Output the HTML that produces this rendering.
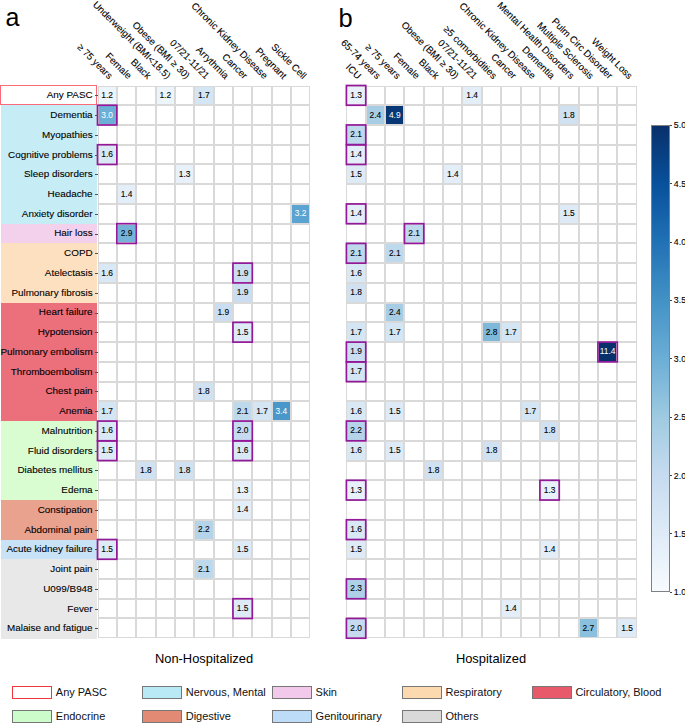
<!DOCTYPE html><html><head><meta charset="utf-8"><style>
html,body{margin:0;padding:0;background:#fff;}
body{width:685px;height:724px;position:relative;overflow:hidden;font-family:"Liberation Sans",sans-serif;color:#000;}
.a{position:absolute;}
.lab{position:absolute;text-align:right;white-space:nowrap;-webkit-text-stroke:0.1px #000;}
.c{position:absolute;display:flex;align-items:center;justify-content:center;}
.hd{position:absolute;width:0;height:0;}
.hd span{-webkit-text-stroke:0.1px #000;position:absolute;right:0;bottom:0;white-space:nowrap;transform-origin:100% 100%;transform:rotate(45deg);}
.tk{position:absolute;height:1px;background:#333;}
</style></head><body>

<div class="a" style="left:0.8px;top:105.24px;width:96.4px;height:20.04px;background:#c6edf5"></div>
<div class="a" style="left:0.8px;top:124.98px;width:96.4px;height:20.04px;background:#c6edf5"></div>
<div class="a" style="left:0.8px;top:144.72px;width:96.4px;height:20.04px;background:#c6edf5"></div>
<div class="a" style="left:0.8px;top:164.46px;width:96.4px;height:20.04px;background:#c6edf5"></div>
<div class="a" style="left:0.8px;top:184.20px;width:96.4px;height:20.04px;background:#c6edf5"></div>
<div class="a" style="left:0.8px;top:203.94px;width:96.4px;height:20.04px;background:#c6edf5"></div>
<div class="a" style="left:0.8px;top:223.68px;width:96.4px;height:20.04px;background:#f3d0ec"></div>
<div class="a" style="left:0.8px;top:243.42px;width:96.4px;height:20.04px;background:#fde0c0"></div>
<div class="a" style="left:0.8px;top:263.16px;width:96.4px;height:20.04px;background:#fde0c0"></div>
<div class="a" style="left:0.8px;top:282.90px;width:96.4px;height:20.04px;background:#fde0c0"></div>
<div class="a" style="left:0.8px;top:302.64px;width:96.4px;height:20.04px;background:#ec6f7c"></div>
<div class="a" style="left:0.8px;top:322.38px;width:96.4px;height:20.04px;background:#ec6f7c"></div>
<div class="a" style="left:0.8px;top:342.12px;width:96.4px;height:20.04px;background:#ec6f7c"></div>
<div class="a" style="left:0.8px;top:361.86px;width:96.4px;height:20.04px;background:#ec6f7c"></div>
<div class="a" style="left:0.8px;top:381.60px;width:96.4px;height:20.04px;background:#ec6f7c"></div>
<div class="a" style="left:0.8px;top:401.34px;width:96.4px;height:20.04px;background:#ec6f7c"></div>
<div class="a" style="left:0.8px;top:421.08px;width:96.4px;height:20.04px;background:#d9fdd1"></div>
<div class="a" style="left:0.8px;top:440.82px;width:96.4px;height:20.04px;background:#d9fdd1"></div>
<div class="a" style="left:0.8px;top:460.56px;width:96.4px;height:20.04px;background:#d9fdd1"></div>
<div class="a" style="left:0.8px;top:480.30px;width:96.4px;height:20.04px;background:#d9fdd1"></div>
<div class="a" style="left:0.8px;top:500.04px;width:96.4px;height:20.04px;background:#e9a28e"></div>
<div class="a" style="left:0.8px;top:519.78px;width:96.4px;height:20.04px;background:#e9a28e"></div>
<div class="a" style="left:0.8px;top:539.52px;width:96.4px;height:20.04px;background:#c8e3f8"></div>
<div class="a" style="left:0.8px;top:559.26px;width:96.4px;height:20.04px;background:#e8e8e8"></div>
<div class="a" style="left:0.8px;top:579.00px;width:96.4px;height:20.04px;background:#e8e8e8"></div>
<div class="a" style="left:0.8px;top:598.74px;width:96.4px;height:20.04px;background:#e8e8e8"></div>
<div class="a" style="left:0.8px;top:618.48px;width:96.4px;height:20.04px;background:#e8e8e8"></div>
<div class="a" style="left:0;top:85px;width:97.3px;height:20.2px;border:1.8px solid #fb6a78;box-sizing:border-box"></div>
<div class="a" style="left:97.50px;top:85.50px;width:212.85px;height:552.72px;overflow:hidden">
<div class="a" style="left:0.00px;top:0.00px;width:19.35px;height:19.74px;background:#edf5fc"></div>
<div class="a" style="left:58.05px;top:0.00px;width:19.35px;height:19.74px;background:#edf5fc"></div>
<div class="a" style="left:96.75px;top:0.00px;width:19.35px;height:19.74px;background:#d4e5f4"></div>
<div class="a" style="left:0.00px;top:19.74px;width:19.35px;height:19.74px;background:#6baed6"></div>
<div class="a" style="left:0.00px;top:59.22px;width:19.35px;height:19.74px;background:#d9e8f5"></div>
<div class="a" style="left:77.40px;top:78.96px;width:19.35px;height:19.74px;background:#e8f1fa"></div>
<div class="a" style="left:19.35px;top:98.70px;width:19.35px;height:19.74px;background:#e3eef9"></div>
<div class="a" style="left:193.50px;top:118.44px;width:19.35px;height:19.74px;background:#5ba3d0"></div>
<div class="a" style="left:19.35px;top:138.18px;width:19.35px;height:19.74px;background:#75b4d8"></div>
<div class="a" style="left:0.00px;top:177.66px;width:19.35px;height:19.74px;background:#d9e8f5"></div>
<div class="a" style="left:135.45px;top:177.66px;width:19.35px;height:19.74px;background:#cbdef1"></div>
<div class="a" style="left:135.45px;top:197.40px;width:19.35px;height:19.74px;background:#cbdef1"></div>
<div class="a" style="left:116.10px;top:217.14px;width:19.35px;height:19.74px;background:#cbdef1"></div>
<div class="a" style="left:135.45px;top:236.88px;width:19.35px;height:19.74px;background:#deebf7"></div>
<div class="a" style="left:96.75px;top:296.10px;width:19.35px;height:19.74px;background:#d0e1f2"></div>
<div class="a" style="left:0.00px;top:315.84px;width:19.35px;height:19.74px;background:#d4e5f4"></div>
<div class="a" style="left:135.45px;top:315.84px;width:19.35px;height:19.74px;background:#bed8ec"></div>
<div class="a" style="left:154.80px;top:315.84px;width:19.35px;height:19.74px;background:#d4e5f4"></div>
<div class="a" style="left:174.15px;top:315.84px;width:19.35px;height:19.74px;background:#4a98c9"></div>
<div class="a" style="left:0.00px;top:335.58px;width:19.35px;height:19.74px;background:#d9e8f5"></div>
<div class="a" style="left:135.45px;top:335.58px;width:19.35px;height:19.74px;background:#c6dbef"></div>
<div class="a" style="left:0.00px;top:355.32px;width:19.35px;height:19.74px;background:#deebf7"></div>
<div class="a" style="left:135.45px;top:355.32px;width:19.35px;height:19.74px;background:#d9e8f5"></div>
<div class="a" style="left:38.70px;top:375.06px;width:19.35px;height:19.74px;background:#d0e1f2"></div>
<div class="a" style="left:77.40px;top:375.06px;width:19.35px;height:19.74px;background:#d0e1f2"></div>
<div class="a" style="left:135.45px;top:394.80px;width:19.35px;height:19.74px;background:#e8f1fa"></div>
<div class="a" style="left:135.45px;top:414.54px;width:19.35px;height:19.74px;background:#e3eef9"></div>
<div class="a" style="left:96.75px;top:434.28px;width:19.35px;height:19.74px;background:#b6d4e9"></div>
<div class="a" style="left:0.00px;top:454.02px;width:19.35px;height:19.74px;background:#deebf7"></div>
<div class="a" style="left:135.45px;top:454.02px;width:19.35px;height:19.74px;background:#deebf7"></div>
<div class="a" style="left:96.75px;top:473.76px;width:19.35px;height:19.74px;background:#bed8ec"></div>
<div class="a" style="left:135.45px;top:513.24px;width:19.35px;height:19.74px;background:#deebf7"></div>
<div class="a" style="left:-1.00px;top:0;width:2.00px;height:552.72px;background:#d9d9d9"></div>
<div class="a" style="left:18.35px;top:0;width:2.00px;height:552.72px;background:#d9d9d9"></div>
<div class="a" style="left:37.70px;top:0;width:2.00px;height:552.72px;background:#d9d9d9"></div>
<div class="a" style="left:57.05px;top:0;width:2.00px;height:552.72px;background:#d9d9d9"></div>
<div class="a" style="left:76.40px;top:0;width:2.00px;height:552.72px;background:#d9d9d9"></div>
<div class="a" style="left:95.75px;top:0;width:2.00px;height:552.72px;background:#d9d9d9"></div>
<div class="a" style="left:115.10px;top:0;width:2.00px;height:552.72px;background:#d9d9d9"></div>
<div class="a" style="left:134.45px;top:0;width:2.00px;height:552.72px;background:#d9d9d9"></div>
<div class="a" style="left:153.80px;top:0;width:2.00px;height:552.72px;background:#d9d9d9"></div>
<div class="a" style="left:173.15px;top:0;width:2.00px;height:552.72px;background:#d9d9d9"></div>
<div class="a" style="left:192.50px;top:0;width:2.00px;height:552.72px;background:#d9d9d9"></div>
<div class="a" style="left:211.85px;top:0;width:2.00px;height:552.72px;background:#d9d9d9"></div>
<div class="a" style="left:0;top:-1.00px;width:212.85px;height:2.00px;background:#d9d9d9"></div>
<div class="a" style="left:0;top:18.74px;width:212.85px;height:2.00px;background:#d9d9d9"></div>
<div class="a" style="left:0;top:38.48px;width:212.85px;height:2.00px;background:#d9d9d9"></div>
<div class="a" style="left:0;top:58.22px;width:212.85px;height:2.00px;background:#d9d9d9"></div>
<div class="a" style="left:0;top:77.96px;width:212.85px;height:2.00px;background:#d9d9d9"></div>
<div class="a" style="left:0;top:97.70px;width:212.85px;height:2.00px;background:#d9d9d9"></div>
<div class="a" style="left:0;top:117.44px;width:212.85px;height:2.00px;background:#d9d9d9"></div>
<div class="a" style="left:0;top:137.18px;width:212.85px;height:2.00px;background:#d9d9d9"></div>
<div class="a" style="left:0;top:156.92px;width:212.85px;height:2.00px;background:#d9d9d9"></div>
<div class="a" style="left:0;top:176.66px;width:212.85px;height:2.00px;background:#d9d9d9"></div>
<div class="a" style="left:0;top:196.40px;width:212.85px;height:2.00px;background:#d9d9d9"></div>
<div class="a" style="left:0;top:216.14px;width:212.85px;height:2.00px;background:#d9d9d9"></div>
<div class="a" style="left:0;top:235.88px;width:212.85px;height:2.00px;background:#d9d9d9"></div>
<div class="a" style="left:0;top:255.62px;width:212.85px;height:2.00px;background:#d9d9d9"></div>
<div class="a" style="left:0;top:275.36px;width:212.85px;height:2.00px;background:#d9d9d9"></div>
<div class="a" style="left:0;top:295.10px;width:212.85px;height:2.00px;background:#d9d9d9"></div>
<div class="a" style="left:0;top:314.84px;width:212.85px;height:2.00px;background:#d9d9d9"></div>
<div class="a" style="left:0;top:334.58px;width:212.85px;height:2.00px;background:#d9d9d9"></div>
<div class="a" style="left:0;top:354.32px;width:212.85px;height:2.00px;background:#d9d9d9"></div>
<div class="a" style="left:0;top:374.06px;width:212.85px;height:2.00px;background:#d9d9d9"></div>
<div class="a" style="left:0;top:393.80px;width:212.85px;height:2.00px;background:#d9d9d9"></div>
<div class="a" style="left:0;top:413.54px;width:212.85px;height:2.00px;background:#d9d9d9"></div>
<div class="a" style="left:0;top:433.28px;width:212.85px;height:2.00px;background:#d9d9d9"></div>
<div class="a" style="left:0;top:453.02px;width:212.85px;height:2.00px;background:#d9d9d9"></div>
<div class="a" style="left:0;top:472.76px;width:212.85px;height:2.00px;background:#d9d9d9"></div>
<div class="a" style="left:0;top:492.50px;width:212.85px;height:2.00px;background:#d9d9d9"></div>
<div class="a" style="left:0;top:512.24px;width:212.85px;height:2.00px;background:#d9d9d9"></div>
<div class="a" style="left:0;top:531.98px;width:212.85px;height:2.00px;background:#d9d9d9"></div>
<div class="a" style="left:0;top:551.72px;width:212.85px;height:2.00px;background:#d9d9d9"></div>
</div>
<svg class="a" style="left:0;top:0" width="685" height="724">
<rect x="97.50" y="105.24" width="19.35" height="19.74" fill="none" stroke="#92199a" stroke-width="1.7"/>
<rect x="97.50" y="144.72" width="19.35" height="19.74" fill="none" stroke="#92199a" stroke-width="1.7"/>
<rect x="116.85" y="223.68" width="19.35" height="19.74" fill="none" stroke="#92199a" stroke-width="1.7"/>
<rect x="232.95" y="263.16" width="19.35" height="19.74" fill="none" stroke="#92199a" stroke-width="1.7"/>
<rect x="232.95" y="322.38" width="19.35" height="19.74" fill="none" stroke="#92199a" stroke-width="1.7"/>
<rect x="97.50" y="421.08" width="19.35" height="19.74" fill="none" stroke="#92199a" stroke-width="1.7"/>
<rect x="232.95" y="421.08" width="19.35" height="19.74" fill="none" stroke="#92199a" stroke-width="1.7"/>
<rect x="97.50" y="440.82" width="19.35" height="19.74" fill="none" stroke="#92199a" stroke-width="1.7"/>
<rect x="232.95" y="440.82" width="19.35" height="19.74" fill="none" stroke="#92199a" stroke-width="1.7"/>
<rect x="97.50" y="539.52" width="19.35" height="19.74" fill="none" stroke="#92199a" stroke-width="1.7"/>
<rect x="232.95" y="598.74" width="19.35" height="19.74" fill="none" stroke="#92199a" stroke-width="1.7"/>
</svg>
<div class="c" style="left:97.50px;top:85.90px;width:19.35px;height:17.94px;font-size:8.4px;color:#000;-webkit-text-stroke:0.1px #000">1.2</div>
<div class="c" style="left:155.55px;top:85.90px;width:19.35px;height:17.94px;font-size:8.4px;color:#000;-webkit-text-stroke:0.1px #000">1.2</div>
<div class="c" style="left:194.25px;top:85.90px;width:19.35px;height:17.94px;font-size:8.4px;color:#000;-webkit-text-stroke:0.1px #000">1.7</div>
<div class="c" style="left:97.50px;top:105.64px;width:19.35px;height:17.94px;font-size:8.4px;color:#ffffff;">3.0</div>
<div class="c" style="left:97.50px;top:145.12px;width:19.35px;height:17.94px;font-size:8.4px;color:#000;-webkit-text-stroke:0.1px #000">1.6</div>
<div class="c" style="left:174.90px;top:164.86px;width:19.35px;height:17.94px;font-size:8.4px;color:#000;-webkit-text-stroke:0.1px #000">1.3</div>
<div class="c" style="left:116.85px;top:184.60px;width:19.35px;height:17.94px;font-size:8.4px;color:#000;-webkit-text-stroke:0.1px #000">1.4</div>
<div class="c" style="left:291.00px;top:204.34px;width:19.35px;height:17.94px;font-size:8.4px;color:#ffffff;">3.2</div>
<div class="c" style="left:116.85px;top:224.08px;width:19.35px;height:17.94px;font-size:8.4px;color:#000;-webkit-text-stroke:0.1px #000">2.9</div>
<div class="c" style="left:97.50px;top:263.56px;width:19.35px;height:17.94px;font-size:8.4px;color:#000;-webkit-text-stroke:0.1px #000">1.6</div>
<div class="c" style="left:232.95px;top:263.56px;width:19.35px;height:17.94px;font-size:8.4px;color:#000;-webkit-text-stroke:0.1px #000">1.9</div>
<div class="c" style="left:232.95px;top:283.30px;width:19.35px;height:17.94px;font-size:8.4px;color:#000;-webkit-text-stroke:0.1px #000">1.9</div>
<div class="c" style="left:213.60px;top:303.04px;width:19.35px;height:17.94px;font-size:8.4px;color:#000;-webkit-text-stroke:0.1px #000">1.9</div>
<div class="c" style="left:232.95px;top:322.78px;width:19.35px;height:17.94px;font-size:8.4px;color:#000;-webkit-text-stroke:0.1px #000">1.5</div>
<div class="c" style="left:194.25px;top:382.00px;width:19.35px;height:17.94px;font-size:8.4px;color:#000;-webkit-text-stroke:0.1px #000">1.8</div>
<div class="c" style="left:97.50px;top:401.74px;width:19.35px;height:17.94px;font-size:8.4px;color:#000;-webkit-text-stroke:0.1px #000">1.7</div>
<div class="c" style="left:232.95px;top:401.74px;width:19.35px;height:17.94px;font-size:8.4px;color:#000;-webkit-text-stroke:0.1px #000">2.1</div>
<div class="c" style="left:252.30px;top:401.74px;width:19.35px;height:17.94px;font-size:8.4px;color:#000;-webkit-text-stroke:0.1px #000">1.7</div>
<div class="c" style="left:271.65px;top:401.74px;width:19.35px;height:17.94px;font-size:8.4px;color:#ffffff;">3.4</div>
<div class="c" style="left:97.50px;top:421.48px;width:19.35px;height:17.94px;font-size:8.4px;color:#000;-webkit-text-stroke:0.1px #000">1.6</div>
<div class="c" style="left:232.95px;top:421.48px;width:19.35px;height:17.94px;font-size:8.4px;color:#000;-webkit-text-stroke:0.1px #000">2.0</div>
<div class="c" style="left:97.50px;top:441.22px;width:19.35px;height:17.94px;font-size:8.4px;color:#000;-webkit-text-stroke:0.1px #000">1.5</div>
<div class="c" style="left:232.95px;top:441.22px;width:19.35px;height:17.94px;font-size:8.4px;color:#000;-webkit-text-stroke:0.1px #000">1.6</div>
<div class="c" style="left:136.20px;top:460.96px;width:19.35px;height:17.94px;font-size:8.4px;color:#000;-webkit-text-stroke:0.1px #000">1.8</div>
<div class="c" style="left:174.90px;top:460.96px;width:19.35px;height:17.94px;font-size:8.4px;color:#000;-webkit-text-stroke:0.1px #000">1.8</div>
<div class="c" style="left:232.95px;top:480.70px;width:19.35px;height:17.94px;font-size:8.4px;color:#000;-webkit-text-stroke:0.1px #000">1.3</div>
<div class="c" style="left:232.95px;top:500.44px;width:19.35px;height:17.94px;font-size:8.4px;color:#000;-webkit-text-stroke:0.1px #000">1.4</div>
<div class="c" style="left:194.25px;top:520.18px;width:19.35px;height:17.94px;font-size:8.4px;color:#000;-webkit-text-stroke:0.1px #000">2.2</div>
<div class="c" style="left:97.50px;top:539.92px;width:19.35px;height:17.94px;font-size:8.4px;color:#000;-webkit-text-stroke:0.1px #000">1.5</div>
<div class="c" style="left:232.95px;top:539.92px;width:19.35px;height:17.94px;font-size:8.4px;color:#000;-webkit-text-stroke:0.1px #000">1.5</div>
<div class="c" style="left:194.25px;top:559.66px;width:19.35px;height:17.94px;font-size:8.4px;color:#000;-webkit-text-stroke:0.1px #000">2.1</div>
<div class="c" style="left:232.95px;top:599.14px;width:19.35px;height:17.94px;font-size:8.4px;color:#000;-webkit-text-stroke:0.1px #000">1.5</div>
<div class="tk" style="left:94.9px;top:95.37px;width:2.8px;background:#555"></div>
<div class="tk" style="left:94.9px;top:115.11px;width:2.8px;background:#555"></div>
<div class="tk" style="left:94.9px;top:134.85px;width:2.8px;background:#555"></div>
<div class="tk" style="left:94.9px;top:154.59px;width:2.8px;background:#555"></div>
<div class="tk" style="left:94.9px;top:174.33px;width:2.8px;background:#555"></div>
<div class="tk" style="left:94.9px;top:194.07px;width:2.8px;background:#555"></div>
<div class="tk" style="left:94.9px;top:213.81px;width:2.8px;background:#555"></div>
<div class="tk" style="left:94.9px;top:233.55px;width:2.8px;background:#555"></div>
<div class="tk" style="left:94.9px;top:253.29px;width:2.8px;background:#555"></div>
<div class="tk" style="left:94.9px;top:273.03px;width:2.8px;background:#555"></div>
<div class="tk" style="left:94.9px;top:292.77px;width:2.8px;background:#555"></div>
<div class="tk" style="left:94.9px;top:312.51px;width:2.8px;background:#555"></div>
<div class="tk" style="left:94.9px;top:332.25px;width:2.8px;background:#555"></div>
<div class="tk" style="left:94.9px;top:351.99px;width:2.8px;background:#555"></div>
<div class="tk" style="left:94.9px;top:371.73px;width:2.8px;background:#555"></div>
<div class="tk" style="left:94.9px;top:391.47px;width:2.8px;background:#555"></div>
<div class="tk" style="left:94.9px;top:411.21px;width:2.8px;background:#555"></div>
<div class="tk" style="left:94.9px;top:430.95px;width:2.8px;background:#555"></div>
<div class="tk" style="left:94.9px;top:450.69px;width:2.8px;background:#555"></div>
<div class="tk" style="left:94.9px;top:470.43px;width:2.8px;background:#555"></div>
<div class="tk" style="left:94.9px;top:490.17px;width:2.8px;background:#555"></div>
<div class="tk" style="left:94.9px;top:509.91px;width:2.8px;background:#555"></div>
<div class="tk" style="left:94.9px;top:529.65px;width:2.8px;background:#555"></div>
<div class="tk" style="left:94.9px;top:549.39px;width:2.8px;background:#555"></div>
<div class="tk" style="left:94.9px;top:569.13px;width:2.8px;background:#555"></div>
<div class="tk" style="left:94.9px;top:588.87px;width:2.8px;background:#555"></div>
<div class="tk" style="left:94.9px;top:608.61px;width:2.8px;background:#555"></div>
<div class="tk" style="left:94.9px;top:628.35px;width:2.8px;background:#555"></div>
<div class="hd" style="left:107.27px;top:80.50px"><span style="font-size:9.7px">≥ 75 years</span></div>
<div class="hd" style="left:126.62px;top:80.50px"><span style="font-size:9.7px">Female</span></div>
<div class="hd" style="left:145.97px;top:80.50px"><span style="font-size:9.7px">Black</span></div>
<div class="hd" style="left:165.33px;top:80.50px"><span style="font-size:9.7px">Underweight (BMI<18.5)</span></div>
<div class="hd" style="left:184.67px;top:80.50px"><span style="font-size:9.7px">Obese (BMI ≥ 30)</span></div>
<div class="hd" style="left:204.03px;top:80.50px"><span style="font-size:9.7px">07/21-11/21</span></div>
<div class="hd" style="left:223.38px;top:80.50px"><span style="font-size:9.7px">Arrythmia</span></div>
<div class="hd" style="left:242.72px;top:80.50px"><span style="font-size:9.7px">Cancer</span></div>
<div class="hd" style="left:262.08px;top:80.50px"><span style="font-size:9.7px">Chronic Kidney Disease</span></div>
<div class="hd" style="left:281.43px;top:80.50px"><span style="font-size:9.7px">Pregnant</span></div>
<div class="hd" style="left:300.78px;top:80.50px"><span style="font-size:9.7px">Sickle Cell</span></div>
<div class="a" style="left:346.40px;top:85.50px;width:290.25px;height:552.72px;overflow:hidden">
<div class="a" style="left:0.00px;top:0.00px;width:19.35px;height:19.74px;background:#e8f1fa"></div>
<div class="a" style="left:116.10px;top:0.00px;width:19.35px;height:19.74px;background:#e3eef9"></div>
<div class="a" style="left:19.35px;top:19.74px;width:19.35px;height:19.74px;background:#a6cde4"></div>
<div class="a" style="left:38.70px;top:19.74px;width:19.35px;height:19.74px;background:#083775"></div>
<div class="a" style="left:212.85px;top:19.74px;width:19.35px;height:19.74px;background:#d0e1f2"></div>
<div class="a" style="left:0.00px;top:39.48px;width:19.35px;height:19.74px;background:#bed8ec"></div>
<div class="a" style="left:0.00px;top:59.22px;width:19.35px;height:19.74px;background:#e3eef9"></div>
<div class="a" style="left:0.00px;top:78.96px;width:19.35px;height:19.74px;background:#deebf7"></div>
<div class="a" style="left:96.75px;top:78.96px;width:19.35px;height:19.74px;background:#e3eef9"></div>
<div class="a" style="left:0.00px;top:118.44px;width:19.35px;height:19.74px;background:#e3eef9"></div>
<div class="a" style="left:212.85px;top:118.44px;width:19.35px;height:19.74px;background:#deebf7"></div>
<div class="a" style="left:58.05px;top:138.18px;width:19.35px;height:19.74px;background:#bed8ec"></div>
<div class="a" style="left:0.00px;top:157.92px;width:19.35px;height:19.74px;background:#bed8ec"></div>
<div class="a" style="left:38.70px;top:157.92px;width:19.35px;height:19.74px;background:#bed8ec"></div>
<div class="a" style="left:0.00px;top:177.66px;width:19.35px;height:19.74px;background:#d9e8f5"></div>
<div class="a" style="left:0.00px;top:197.40px;width:19.35px;height:19.74px;background:#d0e1f2"></div>
<div class="a" style="left:38.70px;top:217.14px;width:19.35px;height:19.74px;background:#a6cde4"></div>
<div class="a" style="left:0.00px;top:236.88px;width:19.35px;height:19.74px;background:#d4e5f4"></div>
<div class="a" style="left:38.70px;top:236.88px;width:19.35px;height:19.74px;background:#d4e5f4"></div>
<div class="a" style="left:135.45px;top:236.88px;width:19.35px;height:19.74px;background:#7fb9da"></div>
<div class="a" style="left:154.80px;top:236.88px;width:19.35px;height:19.74px;background:#d4e5f4"></div>
<div class="a" style="left:0.00px;top:256.62px;width:19.35px;height:19.74px;background:#cbdef1"></div>
<div class="a" style="left:251.55px;top:256.62px;width:19.35px;height:19.74px;background:#08306b"></div>
<div class="a" style="left:0.00px;top:276.36px;width:19.35px;height:19.74px;background:#d4e5f4"></div>
<div class="a" style="left:0.00px;top:315.84px;width:19.35px;height:19.74px;background:#d9e8f5"></div>
<div class="a" style="left:38.70px;top:315.84px;width:19.35px;height:19.74px;background:#deebf7"></div>
<div class="a" style="left:174.15px;top:315.84px;width:19.35px;height:19.74px;background:#d4e5f4"></div>
<div class="a" style="left:0.00px;top:335.58px;width:19.35px;height:19.74px;background:#b6d4e9"></div>
<div class="a" style="left:193.50px;top:335.58px;width:19.35px;height:19.74px;background:#d0e1f2"></div>
<div class="a" style="left:0.00px;top:355.32px;width:19.35px;height:19.74px;background:#d9e8f5"></div>
<div class="a" style="left:38.70px;top:355.32px;width:19.35px;height:19.74px;background:#deebf7"></div>
<div class="a" style="left:135.45px;top:355.32px;width:19.35px;height:19.74px;background:#d0e1f2"></div>
<div class="a" style="left:77.40px;top:375.06px;width:19.35px;height:19.74px;background:#d0e1f2"></div>
<div class="a" style="left:0.00px;top:394.80px;width:19.35px;height:19.74px;background:#e8f1fa"></div>
<div class="a" style="left:193.50px;top:394.80px;width:19.35px;height:19.74px;background:#e8f1fa"></div>
<div class="a" style="left:0.00px;top:434.28px;width:19.35px;height:19.74px;background:#d9e8f5"></div>
<div class="a" style="left:0.00px;top:454.02px;width:19.35px;height:19.74px;background:#deebf7"></div>
<div class="a" style="left:193.50px;top:454.02px;width:19.35px;height:19.74px;background:#e3eef9"></div>
<div class="a" style="left:0.00px;top:493.50px;width:19.35px;height:19.74px;background:#aed1e7"></div>
<div class="a" style="left:154.80px;top:513.24px;width:19.35px;height:19.74px;background:#e3eef9"></div>
<div class="a" style="left:0.00px;top:532.98px;width:19.35px;height:19.74px;background:#c6dbef"></div>
<div class="a" style="left:232.20px;top:532.98px;width:19.35px;height:19.74px;background:#8abfdd"></div>
<div class="a" style="left:270.90px;top:532.98px;width:19.35px;height:19.74px;background:#deebf7"></div>
<div class="a" style="left:-1.00px;top:0;width:2.00px;height:552.72px;background:#d9d9d9"></div>
<div class="a" style="left:18.35px;top:0;width:2.00px;height:552.72px;background:#d9d9d9"></div>
<div class="a" style="left:37.70px;top:0;width:2.00px;height:552.72px;background:#d9d9d9"></div>
<div class="a" style="left:57.05px;top:0;width:2.00px;height:552.72px;background:#d9d9d9"></div>
<div class="a" style="left:76.40px;top:0;width:2.00px;height:552.72px;background:#d9d9d9"></div>
<div class="a" style="left:95.75px;top:0;width:2.00px;height:552.72px;background:#d9d9d9"></div>
<div class="a" style="left:115.10px;top:0;width:2.00px;height:552.72px;background:#d9d9d9"></div>
<div class="a" style="left:134.45px;top:0;width:2.00px;height:552.72px;background:#d9d9d9"></div>
<div class="a" style="left:153.80px;top:0;width:2.00px;height:552.72px;background:#d9d9d9"></div>
<div class="a" style="left:173.15px;top:0;width:2.00px;height:552.72px;background:#d9d9d9"></div>
<div class="a" style="left:192.50px;top:0;width:2.00px;height:552.72px;background:#d9d9d9"></div>
<div class="a" style="left:211.85px;top:0;width:2.00px;height:552.72px;background:#d9d9d9"></div>
<div class="a" style="left:231.20px;top:0;width:2.00px;height:552.72px;background:#d9d9d9"></div>
<div class="a" style="left:250.55px;top:0;width:2.00px;height:552.72px;background:#d9d9d9"></div>
<div class="a" style="left:269.90px;top:0;width:2.00px;height:552.72px;background:#d9d9d9"></div>
<div class="a" style="left:289.25px;top:0;width:2.00px;height:552.72px;background:#d9d9d9"></div>
<div class="a" style="left:0;top:-1.00px;width:290.25px;height:2.00px;background:#d9d9d9"></div>
<div class="a" style="left:0;top:18.74px;width:290.25px;height:2.00px;background:#d9d9d9"></div>
<div class="a" style="left:0;top:38.48px;width:290.25px;height:2.00px;background:#d9d9d9"></div>
<div class="a" style="left:0;top:58.22px;width:290.25px;height:2.00px;background:#d9d9d9"></div>
<div class="a" style="left:0;top:77.96px;width:290.25px;height:2.00px;background:#d9d9d9"></div>
<div class="a" style="left:0;top:97.70px;width:290.25px;height:2.00px;background:#d9d9d9"></div>
<div class="a" style="left:0;top:117.44px;width:290.25px;height:2.00px;background:#d9d9d9"></div>
<div class="a" style="left:0;top:137.18px;width:290.25px;height:2.00px;background:#d9d9d9"></div>
<div class="a" style="left:0;top:156.92px;width:290.25px;height:2.00px;background:#d9d9d9"></div>
<div class="a" style="left:0;top:176.66px;width:290.25px;height:2.00px;background:#d9d9d9"></div>
<div class="a" style="left:0;top:196.40px;width:290.25px;height:2.00px;background:#d9d9d9"></div>
<div class="a" style="left:0;top:216.14px;width:290.25px;height:2.00px;background:#d9d9d9"></div>
<div class="a" style="left:0;top:235.88px;width:290.25px;height:2.00px;background:#d9d9d9"></div>
<div class="a" style="left:0;top:255.62px;width:290.25px;height:2.00px;background:#d9d9d9"></div>
<div class="a" style="left:0;top:275.36px;width:290.25px;height:2.00px;background:#d9d9d9"></div>
<div class="a" style="left:0;top:295.10px;width:290.25px;height:2.00px;background:#d9d9d9"></div>
<div class="a" style="left:0;top:314.84px;width:290.25px;height:2.00px;background:#d9d9d9"></div>
<div class="a" style="left:0;top:334.58px;width:290.25px;height:2.00px;background:#d9d9d9"></div>
<div class="a" style="left:0;top:354.32px;width:290.25px;height:2.00px;background:#d9d9d9"></div>
<div class="a" style="left:0;top:374.06px;width:290.25px;height:2.00px;background:#d9d9d9"></div>
<div class="a" style="left:0;top:393.80px;width:290.25px;height:2.00px;background:#d9d9d9"></div>
<div class="a" style="left:0;top:413.54px;width:290.25px;height:2.00px;background:#d9d9d9"></div>
<div class="a" style="left:0;top:433.28px;width:290.25px;height:2.00px;background:#d9d9d9"></div>
<div class="a" style="left:0;top:453.02px;width:290.25px;height:2.00px;background:#d9d9d9"></div>
<div class="a" style="left:0;top:472.76px;width:290.25px;height:2.00px;background:#d9d9d9"></div>
<div class="a" style="left:0;top:492.50px;width:290.25px;height:2.00px;background:#d9d9d9"></div>
<div class="a" style="left:0;top:512.24px;width:290.25px;height:2.00px;background:#d9d9d9"></div>
<div class="a" style="left:0;top:531.98px;width:290.25px;height:2.00px;background:#d9d9d9"></div>
<div class="a" style="left:0;top:551.72px;width:290.25px;height:2.00px;background:#d9d9d9"></div>
</div>
<svg class="a" style="left:0;top:0" width="685" height="724">
<rect x="346.40" y="85.50" width="19.35" height="19.74" fill="none" stroke="#92199a" stroke-width="1.7"/>
<rect x="346.40" y="124.98" width="19.35" height="19.74" fill="none" stroke="#92199a" stroke-width="1.7"/>
<rect x="346.40" y="144.72" width="19.35" height="19.74" fill="none" stroke="#92199a" stroke-width="1.7"/>
<rect x="346.40" y="203.94" width="19.35" height="19.74" fill="none" stroke="#92199a" stroke-width="1.7"/>
<rect x="404.45" y="223.68" width="19.35" height="19.74" fill="none" stroke="#92199a" stroke-width="1.7"/>
<rect x="346.40" y="243.42" width="19.35" height="19.74" fill="none" stroke="#92199a" stroke-width="1.7"/>
<rect x="346.40" y="342.12" width="19.35" height="19.74" fill="none" stroke="#92199a" stroke-width="1.7"/>
<rect x="597.95" y="342.12" width="19.35" height="19.74" fill="none" stroke="#92199a" stroke-width="1.7"/>
<rect x="346.40" y="361.86" width="19.35" height="19.74" fill="none" stroke="#92199a" stroke-width="1.7"/>
<rect x="346.40" y="421.08" width="19.35" height="19.74" fill="none" stroke="#92199a" stroke-width="1.7"/>
<rect x="346.40" y="480.30" width="19.35" height="19.74" fill="none" stroke="#92199a" stroke-width="1.7"/>
<rect x="539.90" y="480.30" width="19.35" height="19.74" fill="none" stroke="#92199a" stroke-width="1.7"/>
<rect x="346.40" y="519.78" width="19.35" height="19.74" fill="none" stroke="#92199a" stroke-width="1.7"/>
<rect x="346.40" y="579.00" width="19.35" height="19.74" fill="none" stroke="#92199a" stroke-width="1.7"/>
<rect x="346.40" y="618.48" width="19.35" height="19.74" fill="none" stroke="#92199a" stroke-width="1.7"/>
</svg>
<div class="c" style="left:346.40px;top:85.90px;width:19.35px;height:17.94px;font-size:8.4px;color:#000;-webkit-text-stroke:0.1px #000">1.3</div>
<div class="c" style="left:462.50px;top:85.90px;width:19.35px;height:17.94px;font-size:8.4px;color:#000;-webkit-text-stroke:0.1px #000">1.4</div>
<div class="c" style="left:365.75px;top:105.64px;width:19.35px;height:17.94px;font-size:8.4px;color:#000;-webkit-text-stroke:0.1px #000">2.4</div>
<div class="c" style="left:385.10px;top:105.64px;width:19.35px;height:17.94px;font-size:8.4px;color:#ffffff;">4.9</div>
<div class="c" style="left:559.25px;top:105.64px;width:19.35px;height:17.94px;font-size:8.4px;color:#000;-webkit-text-stroke:0.1px #000">1.8</div>
<div class="c" style="left:346.40px;top:125.38px;width:19.35px;height:17.94px;font-size:8.4px;color:#000;-webkit-text-stroke:0.1px #000">2.1</div>
<div class="c" style="left:346.40px;top:145.12px;width:19.35px;height:17.94px;font-size:8.4px;color:#000;-webkit-text-stroke:0.1px #000">1.4</div>
<div class="c" style="left:346.40px;top:164.86px;width:19.35px;height:17.94px;font-size:8.4px;color:#000;-webkit-text-stroke:0.1px #000">1.5</div>
<div class="c" style="left:443.15px;top:164.86px;width:19.35px;height:17.94px;font-size:8.4px;color:#000;-webkit-text-stroke:0.1px #000">1.4</div>
<div class="c" style="left:346.40px;top:204.34px;width:19.35px;height:17.94px;font-size:8.4px;color:#000;-webkit-text-stroke:0.1px #000">1.4</div>
<div class="c" style="left:559.25px;top:204.34px;width:19.35px;height:17.94px;font-size:8.4px;color:#000;-webkit-text-stroke:0.1px #000">1.5</div>
<div class="c" style="left:404.45px;top:224.08px;width:19.35px;height:17.94px;font-size:8.4px;color:#000;-webkit-text-stroke:0.1px #000">2.1</div>
<div class="c" style="left:346.40px;top:243.82px;width:19.35px;height:17.94px;font-size:8.4px;color:#000;-webkit-text-stroke:0.1px #000">2.1</div>
<div class="c" style="left:385.10px;top:243.82px;width:19.35px;height:17.94px;font-size:8.4px;color:#000;-webkit-text-stroke:0.1px #000">2.1</div>
<div class="c" style="left:346.40px;top:263.56px;width:19.35px;height:17.94px;font-size:8.4px;color:#000;-webkit-text-stroke:0.1px #000">1.6</div>
<div class="c" style="left:346.40px;top:283.30px;width:19.35px;height:17.94px;font-size:8.4px;color:#000;-webkit-text-stroke:0.1px #000">1.8</div>
<div class="c" style="left:385.10px;top:303.04px;width:19.35px;height:17.94px;font-size:8.4px;color:#000;-webkit-text-stroke:0.1px #000">2.4</div>
<div class="c" style="left:346.40px;top:322.78px;width:19.35px;height:17.94px;font-size:8.4px;color:#000;-webkit-text-stroke:0.1px #000">1.7</div>
<div class="c" style="left:385.10px;top:322.78px;width:19.35px;height:17.94px;font-size:8.4px;color:#000;-webkit-text-stroke:0.1px #000">1.7</div>
<div class="c" style="left:481.85px;top:322.78px;width:19.35px;height:17.94px;font-size:8.4px;color:#000;-webkit-text-stroke:0.1px #000">2.8</div>
<div class="c" style="left:501.20px;top:322.78px;width:19.35px;height:17.94px;font-size:8.4px;color:#000;-webkit-text-stroke:0.1px #000">1.7</div>
<div class="c" style="left:346.40px;top:342.52px;width:19.35px;height:17.94px;font-size:8.4px;color:#000;-webkit-text-stroke:0.1px #000">1.9</div>
<div class="c" style="left:597.95px;top:342.52px;width:19.35px;height:17.94px;font-size:8.4px;color:#ffffff;">11.4</div>
<div class="c" style="left:346.40px;top:362.26px;width:19.35px;height:17.94px;font-size:8.4px;color:#000;-webkit-text-stroke:0.1px #000">1.7</div>
<div class="c" style="left:346.40px;top:401.74px;width:19.35px;height:17.94px;font-size:8.4px;color:#000;-webkit-text-stroke:0.1px #000">1.6</div>
<div class="c" style="left:385.10px;top:401.74px;width:19.35px;height:17.94px;font-size:8.4px;color:#000;-webkit-text-stroke:0.1px #000">1.5</div>
<div class="c" style="left:520.55px;top:401.74px;width:19.35px;height:17.94px;font-size:8.4px;color:#000;-webkit-text-stroke:0.1px #000">1.7</div>
<div class="c" style="left:346.40px;top:421.48px;width:19.35px;height:17.94px;font-size:8.4px;color:#000;-webkit-text-stroke:0.1px #000">2.2</div>
<div class="c" style="left:539.90px;top:421.48px;width:19.35px;height:17.94px;font-size:8.4px;color:#000;-webkit-text-stroke:0.1px #000">1.8</div>
<div class="c" style="left:346.40px;top:441.22px;width:19.35px;height:17.94px;font-size:8.4px;color:#000;-webkit-text-stroke:0.1px #000">1.6</div>
<div class="c" style="left:385.10px;top:441.22px;width:19.35px;height:17.94px;font-size:8.4px;color:#000;-webkit-text-stroke:0.1px #000">1.5</div>
<div class="c" style="left:481.85px;top:441.22px;width:19.35px;height:17.94px;font-size:8.4px;color:#000;-webkit-text-stroke:0.1px #000">1.8</div>
<div class="c" style="left:423.80px;top:460.96px;width:19.35px;height:17.94px;font-size:8.4px;color:#000;-webkit-text-stroke:0.1px #000">1.8</div>
<div class="c" style="left:346.40px;top:480.70px;width:19.35px;height:17.94px;font-size:8.4px;color:#000;-webkit-text-stroke:0.1px #000">1.3</div>
<div class="c" style="left:539.90px;top:480.70px;width:19.35px;height:17.94px;font-size:8.4px;color:#000;-webkit-text-stroke:0.1px #000">1.3</div>
<div class="c" style="left:346.40px;top:520.18px;width:19.35px;height:17.94px;font-size:8.4px;color:#000;-webkit-text-stroke:0.1px #000">1.6</div>
<div class="c" style="left:346.40px;top:539.92px;width:19.35px;height:17.94px;font-size:8.4px;color:#000;-webkit-text-stroke:0.1px #000">1.5</div>
<div class="c" style="left:539.90px;top:539.92px;width:19.35px;height:17.94px;font-size:8.4px;color:#000;-webkit-text-stroke:0.1px #000">1.4</div>
<div class="c" style="left:346.40px;top:579.40px;width:19.35px;height:17.94px;font-size:8.4px;color:#000;-webkit-text-stroke:0.1px #000">2.3</div>
<div class="c" style="left:501.20px;top:599.14px;width:19.35px;height:17.94px;font-size:8.4px;color:#000;-webkit-text-stroke:0.1px #000">1.4</div>
<div class="c" style="left:346.40px;top:618.88px;width:19.35px;height:17.94px;font-size:8.4px;color:#000;-webkit-text-stroke:0.1px #000">2.0</div>
<div class="c" style="left:578.60px;top:618.88px;width:19.35px;height:17.94px;font-size:8.4px;color:#000;-webkit-text-stroke:0.1px #000">2.7</div>
<div class="c" style="left:617.30px;top:618.88px;width:19.35px;height:17.94px;font-size:8.4px;color:#000;-webkit-text-stroke:0.1px #000">1.5</div>
<div class="hd" style="left:356.18px;top:80.50px"><span style="font-size:9.7px">ICU</span></div>
<div class="hd" style="left:375.52px;top:80.50px"><span style="font-size:9.7px">65-74 years</span></div>
<div class="hd" style="left:394.88px;top:80.50px"><span style="font-size:9.7px">≥ 75 years</span></div>
<div class="hd" style="left:414.23px;top:80.50px"><span style="font-size:9.7px">Female</span></div>
<div class="hd" style="left:433.57px;top:80.50px"><span style="font-size:9.7px">Black</span></div>
<div class="hd" style="left:452.93px;top:80.50px"><span style="font-size:9.7px">Obese (BMI ≥ 30)</span></div>
<div class="hd" style="left:472.27px;top:80.50px"><span style="font-size:9.7px">07/21-11/21</span></div>
<div class="hd" style="left:491.62px;top:80.50px"><span style="font-size:9.7px">≥5 comorbidities</span></div>
<div class="hd" style="left:510.98px;top:80.50px"><span style="font-size:9.7px">Cancer</span></div>
<div class="hd" style="left:530.33px;top:80.50px"><span style="font-size:9.7px">Chronic Kidney Disease</span></div>
<div class="hd" style="left:549.68px;top:80.50px"><span style="font-size:9.7px">Dementia</span></div>
<div class="hd" style="left:569.02px;top:80.50px"><span style="font-size:9.7px">Mental Health Disorders</span></div>
<div class="hd" style="left:588.38px;top:80.50px"><span style="font-size:9.7px">Multiple Sclerosis</span></div>
<div class="hd" style="left:607.73px;top:80.50px"><span style="font-size:9.7px">Pulm Circ Disorder</span></div>
<div class="hd" style="left:627.08px;top:80.50px"><span style="font-size:9.7px">Weight Loss</span></div>
<div class="lab" style="right:592.40px;top:85.30px;height:19.74px;line-height:19.74px;font-size:9.9px">Any PASC</div>
<div class="lab" style="right:592.40px;top:105.04px;height:19.74px;line-height:19.74px;font-size:9.9px">Dementia</div>
<div class="lab" style="right:592.40px;top:124.78px;height:19.74px;line-height:19.74px;font-size:9.9px">Myopathies</div>
<div class="lab" style="right:592.40px;top:144.52px;height:19.74px;line-height:19.74px;font-size:9.9px">Cognitive problems</div>
<div class="lab" style="right:592.40px;top:164.26px;height:19.74px;line-height:19.74px;font-size:9.9px">Sleep disorders</div>
<div class="lab" style="right:592.40px;top:184.00px;height:19.74px;line-height:19.74px;font-size:9.9px">Headache</div>
<div class="lab" style="right:592.40px;top:203.74px;height:19.74px;line-height:19.74px;font-size:9.9px">Anxiety disorder</div>
<div class="lab" style="right:592.40px;top:223.48px;height:19.74px;line-height:19.74px;font-size:9.9px">Hair loss</div>
<div class="lab" style="right:592.40px;top:243.22px;height:19.74px;line-height:19.74px;font-size:9.9px">COPD</div>
<div class="lab" style="right:592.40px;top:262.96px;height:19.74px;line-height:19.74px;font-size:9.9px">Atelectasis</div>
<div class="lab" style="right:592.40px;top:282.70px;height:19.74px;line-height:19.74px;font-size:9.9px">Pulmonary fibrosis</div>
<div class="lab" style="right:592.40px;top:302.44px;height:19.74px;line-height:19.74px;font-size:9.9px">Heart failure</div>
<div class="lab" style="right:592.40px;top:322.18px;height:19.74px;line-height:19.74px;font-size:9.9px">Hypotension</div>
<div class="lab" style="right:592.40px;top:341.92px;height:19.74px;line-height:19.74px;font-size:9.9px">Pulmonary embolism</div>
<div class="lab" style="right:592.40px;top:361.66px;height:19.74px;line-height:19.74px;font-size:9.9px">Thromboembolism</div>
<div class="lab" style="right:592.40px;top:381.40px;height:19.74px;line-height:19.74px;font-size:9.9px">Chest pain</div>
<div class="lab" style="right:592.40px;top:401.14px;height:19.74px;line-height:19.74px;font-size:9.9px">Anemia</div>
<div class="lab" style="right:592.40px;top:420.88px;height:19.74px;line-height:19.74px;font-size:9.9px">Malnutrition</div>
<div class="lab" style="right:592.40px;top:440.62px;height:19.74px;line-height:19.74px;font-size:9.9px">Fluid disorders</div>
<div class="lab" style="right:592.40px;top:460.36px;height:19.74px;line-height:19.74px;font-size:9.9px">Diabetes mellitus</div>
<div class="lab" style="right:592.40px;top:480.10px;height:19.74px;line-height:19.74px;font-size:9.9px">Edema</div>
<div class="lab" style="right:592.40px;top:499.84px;height:19.74px;line-height:19.74px;font-size:9.9px">Constipation</div>
<div class="lab" style="right:592.40px;top:519.58px;height:19.74px;line-height:19.74px;font-size:9.9px">Abdominal pain</div>
<div class="lab" style="right:592.40px;top:539.32px;height:19.74px;line-height:19.74px;font-size:9.9px">Acute kidney failure</div>
<div class="lab" style="right:592.40px;top:559.06px;height:19.74px;line-height:19.74px;font-size:9.9px">Joint pain</div>
<div class="lab" style="right:592.40px;top:578.80px;height:19.74px;line-height:19.74px;font-size:9.9px">U099/B948</div>
<div class="lab" style="right:592.40px;top:598.54px;height:19.74px;line-height:19.74px;font-size:9.9px">Fever</div>
<div class="lab" style="right:592.40px;top:618.28px;height:19.74px;line-height:19.74px;font-size:9.9px">Malaise and fatigue</div>
<div class="a" style="left:5.5px;top:2.4px;font-size:25px;line-height:30px;color:#000">a</div>
<div class="a" style="left:338.5px;top:2.7px;font-size:25.5px;line-height:30px;color:#000">b</div>
<div class="a" style="left:104px;width:200px;text-align:center;top:650.5px;font-size:12.9px;line-height:15px">Non-Hospitalized</div>
<div class="a" style="left:391px;width:200px;text-align:center;top:650.5px;font-size:12.9px;line-height:15px">Hospitalized</div>
<div class="a" style="left:650.5px;top:125.2px;width:19px;height:466.8px;background:linear-gradient(to top,rgb(247,251,255) 0.0%,rgb(222,235,247) 12.5%,rgb(198,219,239) 25.0%,rgb(158,202,225) 37.5%,rgb(107,174,214) 50.0%,rgb(66,146,198) 62.5%,rgb(33,113,181) 75.0%,rgb(8,81,156) 87.5%,rgb(8,48,107) 100.0%);box-sizing:border-box;border:1px solid #808080"></div>
<div class="tk" style="left:669.5px;top:591.60px;width:2.8px;height:0.8px;background:#444"></div>
<div class="a" style="left:673.8px;top:587.20px;font-size:8.8px;line-height:10px;-webkit-text-stroke:0.1px #000">1.0</div>
<div class="tk" style="left:669.5px;top:533.25px;width:2.8px;height:0.8px;background:#444"></div>
<div class="a" style="left:673.8px;top:528.85px;font-size:8.8px;line-height:10px;-webkit-text-stroke:0.1px #000">1.5</div>
<div class="tk" style="left:669.5px;top:474.90px;width:2.8px;height:0.8px;background:#444"></div>
<div class="a" style="left:673.8px;top:470.50px;font-size:8.8px;line-height:10px;-webkit-text-stroke:0.1px #000">2.0</div>
<div class="tk" style="left:669.5px;top:416.55px;width:2.8px;height:0.8px;background:#444"></div>
<div class="a" style="left:673.8px;top:412.15px;font-size:8.8px;line-height:10px;-webkit-text-stroke:0.1px #000">2.5</div>
<div class="tk" style="left:669.5px;top:358.20px;width:2.8px;height:0.8px;background:#444"></div>
<div class="a" style="left:673.8px;top:353.80px;font-size:8.8px;line-height:10px;-webkit-text-stroke:0.1px #000">3.0</div>
<div class="tk" style="left:669.5px;top:299.85px;width:2.8px;height:0.8px;background:#444"></div>
<div class="a" style="left:673.8px;top:295.45px;font-size:8.8px;line-height:10px;-webkit-text-stroke:0.1px #000">3.5</div>
<div class="tk" style="left:669.5px;top:241.50px;width:2.8px;height:0.8px;background:#444"></div>
<div class="a" style="left:673.8px;top:237.10px;font-size:8.8px;line-height:10px;-webkit-text-stroke:0.1px #000">4.0</div>
<div class="tk" style="left:669.5px;top:183.15px;width:2.8px;height:0.8px;background:#444"></div>
<div class="a" style="left:673.8px;top:178.75px;font-size:8.8px;line-height:10px;-webkit-text-stroke:0.1px #000">4.5</div>
<div class="tk" style="left:669.5px;top:124.80px;width:2.8px;height:0.8px;background:#444"></div>
<div class="a" style="left:673.8px;top:120.40px;font-size:8.8px;line-height:10px;-webkit-text-stroke:0.1px #000">5.0</div>
<div class="a" style="left:12.30px;top:686.30px;width:40px;height:12.6px;box-sizing:border-box;border:1.2px solid #f03838;background:#fff"></div>
<div class="a" style="left:55.80px;top:685.30px;font-size:11px;line-height:14px;color:#111">Any PASC</div>
<div class="a" style="left:142.20px;top:686.30px;width:40px;height:12.6px;box-sizing:border-box;border:1px solid #777;background:#b9e9f4"></div>
<div class="a" style="left:185.70px;top:685.30px;font-size:11px;line-height:14px;color:#111">Nervous, Mental</div>
<div class="a" style="left:272.10px;top:686.30px;width:40px;height:12.6px;box-sizing:border-box;border:1px solid #777;background:#f2c9ea"></div>
<div class="a" style="left:315.60px;top:685.30px;font-size:11px;line-height:14px;color:#111">Skin</div>
<div class="a" style="left:402.00px;top:686.30px;width:40px;height:12.6px;box-sizing:border-box;border:1px solid #777;background:#fdd9b0"></div>
<div class="a" style="left:445.50px;top:685.30px;font-size:11px;line-height:14px;color:#111">Respiratory</div>
<div class="a" style="left:531.90px;top:686.30px;width:40px;height:12.6px;box-sizing:border-box;border:1px solid #777;background:#e85a6a"></div>
<div class="a" style="left:575.40px;top:685.30px;font-size:11px;line-height:14px;color:#111">Circulatory, Blood</div>
<div class="a" style="left:12.30px;top:710.30px;width:40px;height:12.6px;box-sizing:border-box;border:1px solid #777;background:#cdfccb"></div>
<div class="a" style="left:55.80px;top:709.30px;font-size:11px;line-height:14px;color:#111">Endocrine</div>
<div class="a" style="left:142.20px;top:710.30px;width:40px;height:12.6px;box-sizing:border-box;border:1px solid #777;background:#e38a74"></div>
<div class="a" style="left:185.70px;top:709.30px;font-size:11px;line-height:14px;color:#111">Digestive</div>
<div class="a" style="left:272.10px;top:710.30px;width:40px;height:12.6px;box-sizing:border-box;border:1px solid #777;background:#bcdcf7"></div>
<div class="a" style="left:315.60px;top:709.30px;font-size:11px;line-height:14px;color:#111">Genitourinary</div>
<div class="a" style="left:402.00px;top:710.30px;width:40px;height:12.6px;box-sizing:border-box;border:1px solid #777;background:#d9d9d9"></div>
<div class="a" style="left:445.50px;top:709.30px;font-size:11px;line-height:14px;color:#111">Others</div>
</body></html>
